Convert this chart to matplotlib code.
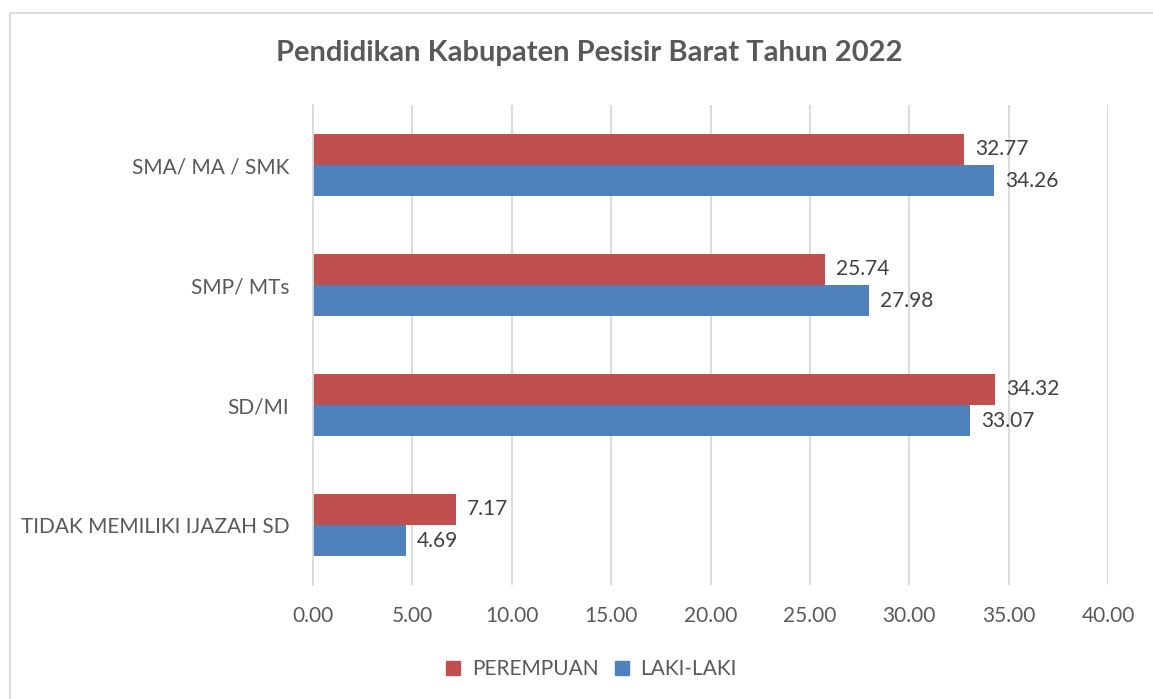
import matplotlib
matplotlib.use("Agg")
import matplotlib.pyplot as plt
from matplotlib.lines import Line2D
import numpy as np

categories = ["TIDAK MEMILIKI IJAZAH SD", "SD/MI", "SMP/ MTs", "SMA/ MA / SMK"]
perempuan = [7.17, 34.32, 25.74, 32.77]
laki = [4.69, 33.07, 27.98, 34.26]
xticks = [0, 5, 10, 15, 20, 25, 30, 35, 40]
title = "Pendidikan Kabupaten Pesisir Barat Tahun 2022"

RED = "#C0504D"
BLUE = "#4F81BD"
TXT = "#595959"
GRID = "#D9D9D9"

plt.rcParams['font.family'] = ['Lato', 'DejaVu Sans']

W, H = 1153, 699
fig = plt.figure(figsize=(W / 100, H / 100), dpi=100)
ax = fig.add_axes([313 / W, 1 - 585 / H, (1108 - 313) / W, (585 - 105) / H])

y = np.arange(len(categories))
h = 0.26
ax.barh(y + h / 2, perempuan, height=h, color=RED, label="PEREMPUAN")
ax.barh(y - h / 2, laki, height=h, color=BLUE, label="LAKI-LAKI")

for yi, v in zip(y, perempuan):
    ax.text(v + 0.55, yi + h / 2, f"{v:.2f}", va="center", ha="left", fontsize=15, color="#404040")
for yi, v in zip(y, laki):
    ax.text(v + 0.55, yi - h / 2, f"{v:.2f}", va="center", ha="left", fontsize=15, color="#404040")

ax.set_xlim(0, 40)
ax.set_ylim(-0.5, len(categories) - 0.5)
ax.set_xticks(xticks)
ax.set_xticklabels([f"{t:.2f}" for t in xticks], fontsize=15, color=TXT)
ax.set_yticks(y)
ax.set_yticklabels(categories, fontsize=15, color=TXT)
ax.tick_params(axis="both", length=0)
ax.tick_params(axis="x", pad=15)
ax.tick_params(axis="y", pad=17)
ax.xaxis.grid(True, color=GRID, linewidth=1.3)
ax.set_axisbelow(True)
for s in ["top", "right", "bottom"]:
    ax.spines[s].set_visible(False)
ax.spines["left"].set_color(GRID)
ax.spines["left"].set_linewidth(1.3)

fig.text(589 / W, 1 - 53 / H, title, ha="center", va="center", fontsize=21,
         fontweight="bold", color=TXT)

handles = [Line2D([0], [0], marker="s", linestyle="none", markersize=10, markerfacecolor=RED, markeredgecolor=RED),
           Line2D([0], [0], marker="s", linestyle="none", markersize=10, markerfacecolor=BLUE, markeredgecolor=BLUE)]
fig.legend(handles, ["PEREMPUAN", "LAKI-LAKI"], loc="center", bbox_to_anchor=(591 / W, 1 - 669 / H),
           ncol=2, frameon=False, fontsize=15, labelcolor=TXT, handlelength=0.8,
           handletextpad=0.5, columnspacing=0.7)

# outer border (top and left)
fig.add_artist(Line2D([10 / W, 1], [1 - 12.5 / H, 1 - 12.5 / H], color="#D9D9D9", linewidth=1.3))
fig.add_artist(Line2D([10.5 / W, 10.5 / W], [0, 1 - 12.5 / H], color="#D9D9D9", linewidth=1.3))

fig.savefig("out.png", dpi=100, facecolor="white")
